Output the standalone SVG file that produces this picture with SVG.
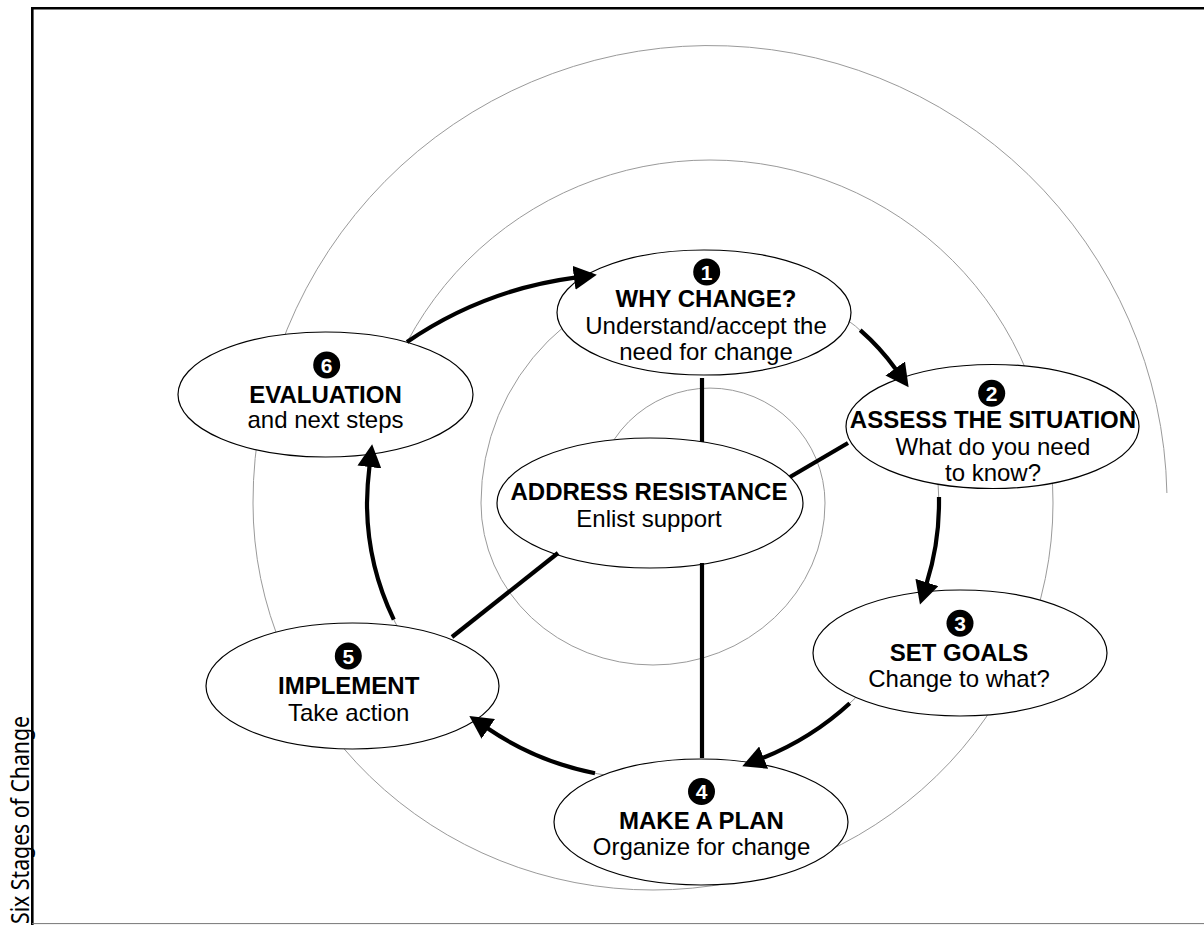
<svg xmlns="http://www.w3.org/2000/svg" width="1204" height="925" viewBox="0 0 1204 925">
<defs>
<marker id="ah" markerUnits="userSpaceOnUse" markerWidth="24" markerHeight="24" viewBox="0 0 24 24" refX="1" refY="12" orient="auto">
<path d="M0,0 L23,12 L0,24 z" fill="#000"/>
</marker>
<style>
.spiral{fill:none;stroke:#9a9a9a;stroke-width:1}
.node ellipse{fill:#fff;stroke:#000;stroke-width:1.2}
.b{font-family:"Liberation Sans",Arial,sans-serif;font-size:24px;font-weight:bold;text-anchor:middle;fill:#000}
.r{font-family:"Liberation Sans",Arial,sans-serif;font-size:24px;text-anchor:middle;fill:#000}
.badge circle{fill:#000}
.badge text{font-family:"Liberation Sans",Arial,sans-serif;font-size:21px;font-weight:bold;text-anchor:middle;fill:#fff}
.arrow{fill:none;stroke:#000;stroke-width:4.2;marker-end:url(#ah)}
.link{fill:none;stroke:#000;stroke-width:4.2}
</style>
</defs>
<rect x="0" y="0" width="1204" height="925" fill="#fff"/>
<g id="frame">
<path d="M32.3,925 V8.3 H1204" fill="none" stroke="#000" stroke-width="2.6"/>
<line x1="32" y1="923.6" x2="1204" y2="923.6" stroke="#777" stroke-width="1"/>
<text transform="translate(29,924) rotate(-90)" font-family="'Noto Sans','Open Sans',sans-serif" font-size="25" textLength="208" lengthAdjust="spacingAndGlyphs" fill="#000">Six Stages of Change</text>
</g>
<g id="spiral">
<path class="spiral" d="M595,503 A115,115 0 0 1 825,503 A172,162 0 0 1 481,503 A229,229 0 0 1 939,503 A286,276 0 0 1 367,503 A343,343 0 0 1 1053,503 A400,387 0 0 1 253,503 A457,457 0 0 1 1166.9,493"/>
</g>
<g id="node-why" class="node">
<ellipse cx="704" cy="312.5" rx="147" ry="62.5"/>
<g class="badge"><circle cx="706.7" cy="272" r="13.5"/><text x="706.7" y="279.5">1</text></g>
<text class="b" x="706" y="306.5">WHY CHANGE?</text>
<text class="r" x="706" y="333.5">Understand/accept the</text>
<text class="r" x="706" y="360">need for change</text>
</g>
<g id="node-assess" class="node">
<ellipse cx="992.5" cy="426.5" rx="146.5" ry="62"/>
<g class="badge"><circle cx="991.7" cy="393.3" r="13.5"/><text x="991.7" y="400.8">2</text></g>
<text class="b" x="993" y="428.3">ASSESS THE SITUATION</text>
<text class="r" x="993" y="455">What do you need</text>
<text class="r" x="993" y="480.5">to know?</text>
</g>
<g id="node-goals" class="node">
<ellipse cx="960" cy="653" rx="147" ry="63"/>
<g class="badge"><circle cx="960" cy="623.3" r="13.5"/><text x="960" y="630.8">3</text></g>
<text class="b" x="959" y="661">SET GOALS</text>
<text class="r" x="959" y="687.3">Change to what?</text>
</g>
<g id="node-plan" class="node">
<ellipse cx="701" cy="822" rx="147" ry="63"/>
<g class="badge"><circle cx="701.5" cy="791.5" r="13.5"/><text x="701.5" y="799">4</text></g>
<text class="b" x="701.5" y="828.5">MAKE A PLAN</text>
<text class="r" x="701.5" y="855">Organize for change</text>
</g>
<g id="node-implement" class="node">
<ellipse cx="352.5" cy="686" rx="146.5" ry="63"/>
<g class="badge"><circle cx="348.3" cy="656" r="13.5"/><text x="348.3" y="663.5">5</text></g>
<text class="b" x="348.7" y="694">IMPLEMENT</text>
<text class="r" x="348.7" y="720.7">Take action</text>
</g>
<g id="node-evaluation" class="node">
<ellipse cx="325.5" cy="394.5" rx="147.5" ry="62.5"/>
<g class="badge"><circle cx="326.7" cy="365" r="13.5"/><text x="326.7" y="372.5">6</text></g>
<text class="b" x="325.5" y="402.7">EVALUATION</text>
<text class="r" x="325.5" y="428.3">and next steps</text>
</g>
<g id="node-resistance" class="node">
<ellipse cx="650" cy="503" rx="153" ry="65"/>
<text class="b" x="649" y="500">ADDRESS RESISTANCE</text>
<text class="r" x="649" y="527.3">Enlist support</text>
</g>
<g id="connectors">
<path class="arrow" d="M407,342 A388,388 0 0 1 575,277.6"/>
<path class="arrow" d="M860.2,330.2 A229,229 0 0 1 895.8,369.3"/>
<path class="arrow" d="M939,497 L939,503 A286,276 0 0 1 926.6,583.4"/>
<path class="arrow" d="M849.8,703.2 A286,276 0 0 1 762.7,758"/>
<path class="arrow" d="M595,773.2 A286,276 0 0 1 487.5,728.3"/>
<path class="arrow" d="M393.8,619.6 A286,276 0 0 1 367,503 A343,343 0 0 1 369.5,466"/>
<line class="link" x1="702" y1="378" x2="702" y2="442"/>
<line class="link" x1="790" y1="477" x2="848" y2="443"/>
<line class="link" x1="558" y1="553" x2="452" y2="637"/>
<line class="link" x1="702" y1="563" x2="702" y2="758"/>
</g>
</svg>
